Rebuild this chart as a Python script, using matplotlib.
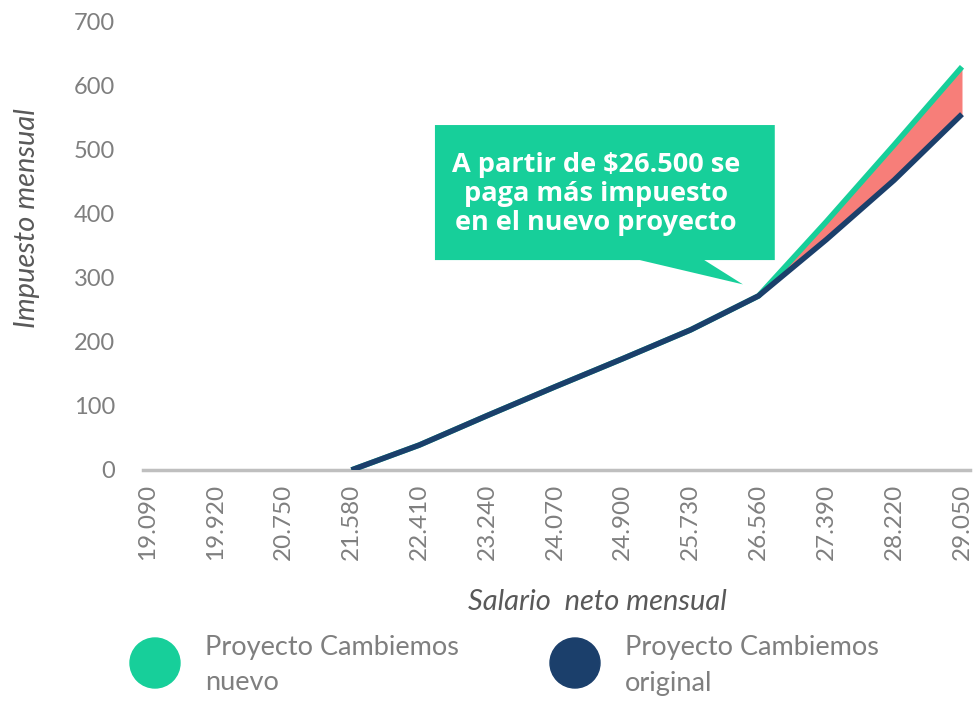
import matplotlib.pyplot as plt
import matplotlib.patches as mpatches
import numpy as np

# data
salario = ['19.090', '19.920', '20.750', '21.580', '22.410', '23.240', '24.070',
           '24.900', '25.730', '26.560', '27.390', '28.220', '29.050']
original = [np.nan, np.nan, np.nan, 0, 39, 85, 130, 174, 219, 272, 360, 453, 556]
nuevo = [np.nan, np.nan, np.nan, 0, 39, 85, 130, 174, 219, 272, 388, 508, 630]

verde = '#17CF9A'
azul = '#1B3F6B'
rojo = '#F77E79'
gris = '#7F7F7F'

fig = plt.figure(figsize=(9.79, 7.01), dpi=100)
ax = fig.add_axes([143/979, 231/701, 827/979, 448/701])

x = np.arange(len(salario))
orig = np.array(original, dtype=float)
nuev = np.array(nuevo, dtype=float)

ax.fill_between(x, orig, nuev, where=nuev >= orig, color=rojo, lw=0, zorder=2)
ax.plot(x, nuev, color=verde, lw=4, solid_capstyle='butt', zorder=3)
ax.plot(x, orig, color=azul, lw=4, solid_capstyle='butt', zorder=4)

ax.set_xlim(-0.074, 12.118)
ax.set_ylim(0, 700)
ax.set_yticks(range(0, 701, 100))
ax.set_xticks(x)
ax.set_xticklabels(salario, rotation=90, fontsize=17.5, color=gris, family='Lato')
for lab in ax.get_yticklabels():
    lab.set_fontsize(17)
    lab.set_color(gris)
    lab.set_family('Lato')
ax.tick_params(length=0, pad=20, axis='y')
ax.tick_params(length=0, pad=10, axis='x')
for s in ['top', 'right', 'left']:
    ax.spines[s].set_visible(False)
ax.spines['bottom'].set_color('#BFBFBF')
ax.spines['bottom'].set_linewidth(2.5)
ax.spines['bottom'].set_zorder(1)

ax.set_ylabel('Impuesto mensual', fontsize=21, style='italic', color='#595959',
              family='Lato')
ax.yaxis.set_label_coords(-0.125, 0.5625)
ax.set_xlabel('Salario  neto mensual', fontsize=21, style='italic', color='#595959',
              family='Lato')
ax.xaxis.set_label_coords(0.55, -0.265)

# callout bubble
caja = [(4.23, 539), (9.24, 539), (9.24, 328), (8.2, 328), (8.77, 290),
        (7.25, 328), (4.23, 328)]
ax.add_patch(mpatches.Polygon(caja, closed=True, color=verde, lw=0, zorder=5))
ax.text(6.6, 432, 'A partir de \\$26.500 se\npaga más impuesto\nen el nuevo proyecto',
        ha='center', va='center', color='white', fontsize=19.5, fontweight='bold',
        family='Open Sans', linespacing=1.15, zorder=6)

# legend
for cx, col, txt in [(155, verde, 'Proyecto Cambiemos\nnuevo'),
                     (575, azul, 'Proyecto Cambiemos\noriginal')]:
    fig.add_artist(mpatches.Ellipse((cx/979, 1 - 663/701), 50/979, 50/701,
                                    transform=fig.transFigure, color=col))
    fig.text((cx + 50)/979, 1 - 665/701, txt, ha='left', va='center', fontsize=19.5,
             color=gris, family='Lato', linespacing=1.55)

fig.savefig('out.png', dpi=100)
